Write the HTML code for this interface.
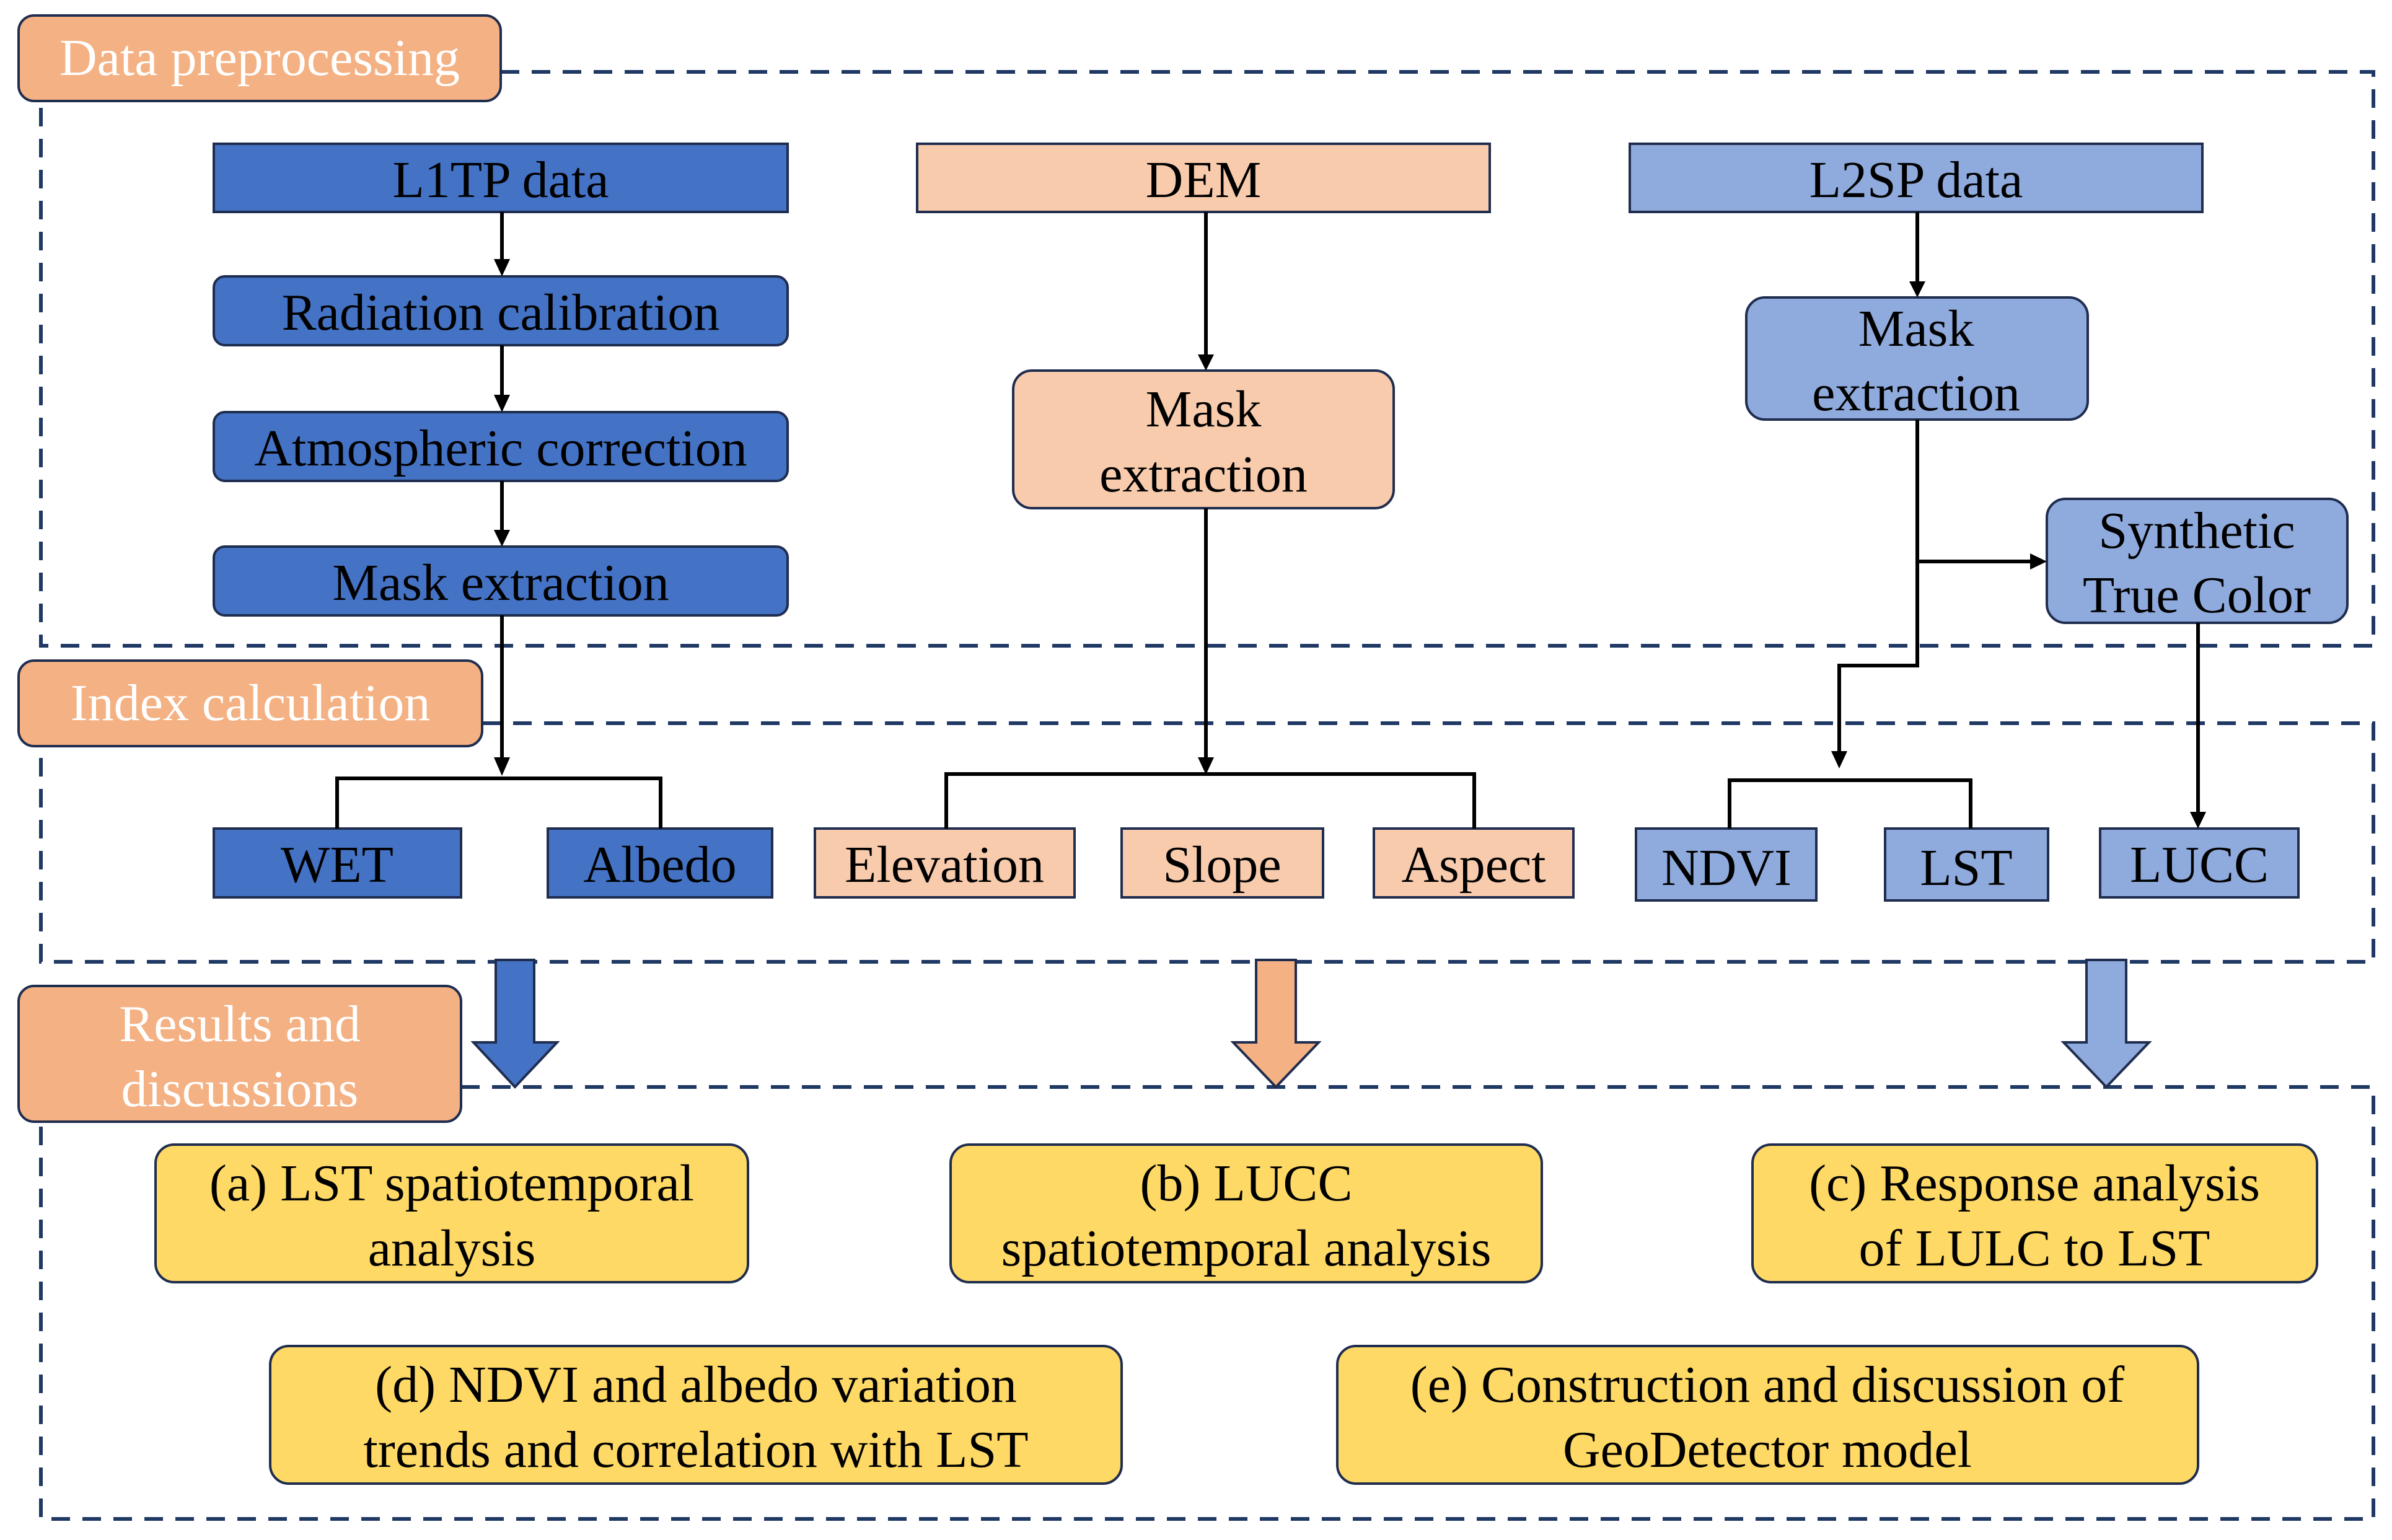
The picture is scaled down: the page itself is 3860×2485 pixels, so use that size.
<!DOCTYPE html>
<html><head><meta charset="utf-8"><style>
html,body{margin:0;padding:0;background:#fff;}
svg{display:block;}
text{font-family:"Liberation Serif",serif;font-size:84px;text-anchor:middle;fill:#000;}
.w{fill:#fff;}
</style></head><body>
<svg width="3860" height="2485" viewBox="0 0 3860 2485" xmlns="http://www.w3.org/2000/svg">
<defs>
<marker id="ah" markerWidth="8" markerHeight="8" refX="7" refY="4" orient="auto" markerUnits="userSpaceOnUse" viewBox="0 0 8 8">
</marker>
</defs>
<g fill="none" stroke="#1F3864" stroke-width="6" stroke-dasharray="30,20">
<path d="M808 116 H3830 V1042 H66 V163"/>
<path d="M778 1167 H3830 V1552 H66 V1204"/>
<path d="M744 1754 H3830 V2451 H66 V1810"/>
</g>
<g stroke="#1F2D4F" stroke-width="4">
<rect x="30" y="25" width="778" height="138" rx="25" fill="#F4B183"/>
<rect x="30" y="1066" width="748" height="138" rx="25" fill="#F4B183"/>
<rect x="30" y="1591" width="714" height="219" rx="25" fill="#F4B183"/>
<rect x="345" y="232" width="926" height="110" fill="#4472C4"/>
<rect x="345" y="446" width="926" height="111" rx="18" fill="#4472C4"/>
<rect x="345" y="665" width="926" height="111" rx="18" fill="#4472C4"/>
<rect x="345" y="882" width="926" height="111" rx="18" fill="#4472C4"/>
<rect x="1480" y="232" width="924" height="110" fill="#F8CBAD"/>
<rect x="1635" y="598" width="614" height="222" rx="30" fill="#F8CBAD"/>
<rect x="2630" y="232" width="924" height="110" fill="#8FAADC"/>
<rect x="2818" y="480" width="551" height="197" rx="30" fill="#8FAADC"/>
<rect x="3303" y="805" width="485" height="200" rx="30" fill="#8FAADC"/>
<rect x="345" y="1337" width="399" height="111" fill="#4472C4"/>
<rect x="884" y="1337" width="362" height="111" fill="#4472C4"/>
<rect x="1315" y="1337" width="419" height="111" fill="#F8CBAD"/>
<rect x="1810" y="1337" width="325" height="111" fill="#F8CBAD"/>
<rect x="2217" y="1337" width="322" height="111" fill="#F8CBAD"/>
<rect x="2640" y="1337" width="291" height="116" fill="#8FAADC"/>
<rect x="3042" y="1337" width="263" height="116" fill="#8FAADC"/>
<rect x="3389" y="1337" width="320" height="111" fill="#8FAADC"/>
<rect x="251" y="1847" width="956" height="222" rx="30" fill="#FFD966"/>
<rect x="1534" y="1847" width="954" height="222" rx="30" fill="#FFD966"/>
<rect x="2828" y="1847" width="911" height="222" rx="30" fill="#FFD966"/>
<rect x="436" y="2172" width="1374" height="222" rx="30" fill="#FFD966"/>
<rect x="2158" y="2172" width="1389" height="222" rx="30" fill="#FFD966"/>
<path d="M800 1549 H862 V1682 H899 L831 1754 L764 1682 H800 Z" fill="#4472C4"/>
<path d="M2027 1549 H2091 V1682 H2128 L2059 1754 L1990 1682 H2027 Z" fill="#F4B183"/>
<path d="M3367 1549 H3431 V1682 H3468 L3399 1754 L3330 1682 H3367 Z" fill="#8FAADC"/>
</g>
<g fill="none" stroke="#000" stroke-width="6">
<path d="M810 342 V420 M810 557 V640 M810 776 V858 M810 993 V1228"/>
<path d="M544 1337 V1256 H1066 V1337"/>
<path d="M1946 342 V575 M1946 820 V1226"/>
<path d="M1527 1337 V1249 H2379 V1337"/>
<path d="M3094 342 V456 M3094 677 V1074 H2968 V1216 M3094 906 H3280"/>
<path d="M2791 1337 V1259 H3180 V1337"/>
<path d="M3547 1005 V1314"/>
</g>
<g fill="#000">
<path d="M797 418 L823 418 L810 446 Z"/>
<path d="M797 637 L823 637 L810 665 Z"/>
<path d="M797 855 L823 855 L810 882 Z"/>
<path d="M797 1222 L823 1222 L810 1252 Z"/>
<path d="M1933 572 L1959 572 L1946 598 Z"/>
<path d="M1933 1222 L1959 1222 L1946 1250 Z"/>
<path d="M3081 454 L3107 454 L3094 480 Z"/>
<path d="M2955 1212 L2981 1212 L2968 1240 Z"/>
<path d="M3276 893 L3276 919 L3303 906 Z"/>
<path d="M3534 1310 L3560 1310 L3547 1337 Z"/>
</g>
<text class="w" x="419" y="121">Data preprocessing</text>
<text class="w" x="404" y="1162">Index calculation</text>
<text class="w" x="387" y="1680">Results and</text>
<text class="w" x="387" y="1785">discussions</text>
<text x="808" y="318">L1TP data</text>
<text x="808" y="532">Radiation calibration</text>
<text x="808" y="751">Atmospheric correction</text>
<text x="808" y="968">Mask extraction</text>
<text x="1942" y="318">DEM</text>
<text x="1942" y="688">Mask</text>
<text x="1942" y="793">extraction</text>
<text x="3092" y="318">L2SP data</text>
<text x="3092" y="558">Mask</text>
<text x="3092" y="662">extraction</text>
<text x="3545" y="884">Synthetic</text>
<text x="3545" y="988">True Color</text>
<text x="544" y="1423">WET</text>
<text x="1065" y="1423">Albedo</text>
<text x="1524" y="1423">Elevation</text>
<text x="1972" y="1423">Slope</text>
<text x="2378" y="1423">Aspect</text>
<text x="2786" y="1428">NDVI</text>
<text x="3173" y="1428">LST</text>
<text x="3549" y="1423">LUCC</text>
<text x="729" y="1937">(a) LST spatiotemporal</text>
<text x="729" y="2042">analysis</text>
<text x="2011" y="1937">(b) LUCC</text>
<text x="2011" y="2042">spatiotemporal analysis</text>
<text x="3283" y="1937">(c) Response analysis</text>
<text x="3283" y="2042">of LULC to LST</text>
<text x="1123" y="2262">(d) NDVI and albedo variation</text>
<text x="1123" y="2367">trends and correlation with LST</text>
<text x="2852" y="2262">(e) Construction and discussion of</text>
<text x="2852" y="2367">GeoDetector model</text>
</svg>
</body></html>
